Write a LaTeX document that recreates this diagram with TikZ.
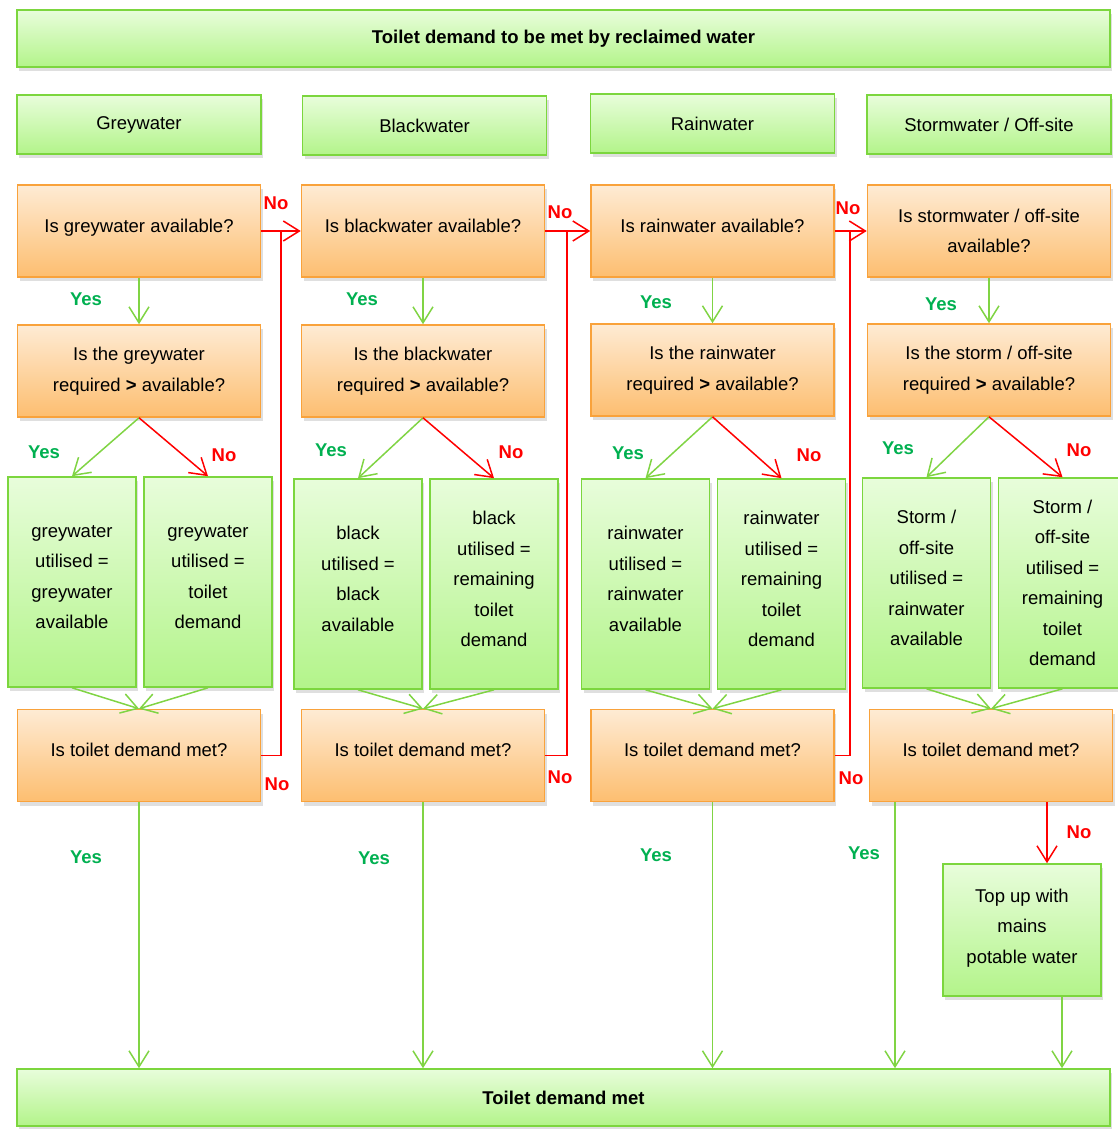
\documentclass[tikz,border=0pt]{standalone}
\usepackage{fontspec}
\setmainfont{Liberation Sans}
\usetikzlibrary{arrows.meta,shadows}
\definecolor{greenedge}{HTML}{7CD63E}
\definecolor{greentop}{HTML}{E8FDDB}
\definecolor{greenbot}{HTML}{B3F48A}
\definecolor{orangeedge}{HTML}{F9A23B}
\definecolor{orangetop}{HTML}{FEEBD4}
\definecolor{orangebot}{HTML}{FDBE70}
\definecolor{yesgreen}{HTML}{00B050}
\definecolor{linegreen}{HTML}{80D444}
\tikzset{every node/.style={font=\fontsize{18.5}{30.5}\selectfont, align=center},
    basebox/.style={draw, line width=1.6pt, inner sep=0pt,
        drop shadow={shadow xshift=2pt, shadow yshift=-4pt, opacity=0.25}},
    greenbox/.style={basebox, draw=greenedge, top color=greentop, bottom color=greenbot},
    orangebox/.style={basebox, draw=orangeedge, top color=orangetop, bottom color=orangebot},
    banner/.style={greenbox, minimum width=1093pt, minimum height=57pt, font=\fontsize{18.5}{30.5}\selectfont\bfseries},
    header/.style={greenbox, minimum width=244pt, minimum height=59pt},
    question/.style={orangebox, minimum width=243pt, minimum height=92pt},
    oneline/.style={question, text depth=11pt},
    result/.style={greenbox, minimum width=128pt, minimum height=210pt, text depth=10pt},
    yesline/.style={draw=linegreen, line width=1.5pt, -{Straight Barb[length=16pt,width=20pt]}},
    noline/.style={draw=red, line width=1.5pt},
    noarrow/.style={noline, -{Straight Barb[length=16pt,width=20pt]}},
    yeslbl/.style={text=yesgreen, font=\fontsize{18.5}{22}\selectfont\bfseries},
    nolbl/.style={text=red, font=\fontsize{18.5}{22}\selectfont\bfseries},
    }
\begin{document}
\begin{tikzpicture}[x=1pt,y=-1pt]
\useasboundingbox (0,0) rectangle (1118,1129);
% banners
\node[banner] (title) at (563.5,38.5) {Toilet demand to be met by reclaimed water};
\node[banner] (done) at (563.5,1097.5) {Toilet demand met};
% sources
\node[header] (grey) at (139,124.5) {Greywater};
\node[header] (black) at (424.5,125.5) {Blackwater};
\node[header] (rain) at (712.5,123.5) {Rainwater};
\node[header] (storm) at (989,124.5) {Stormwater / Off-site};
% is it available
\node[oneline] (avail1) at (139,231) {Is greywater available?};
\node[oneline] (avail2) at (423,231) {Is blackwater available?};
\node[oneline] (avail3) at (712.5,231) {Is rainwater available?};
\node[question] (avail4) at (989,231) {Is stormwater / off-site\\available?};
% required > available
\node[question] (req1) at (139,371) {Is the greywater\\required \textbf{>} available?};
\node[question] (req2) at (423,371) {Is the blackwater\\required \textbf{>} available?};
\node[question] (req3) at (712.5,370) {Is the rainwater\\required \textbf{>} available?};
\node[question] (req4) at (989,370) {Is the storm / off-site\\required \textbf{>} available?};
% utilised
\node[result] (use1a) at (72,582) {greywater\\utilised =\\greywater\\available};
\node[result] (use1b) at (208,582) {greywater\\utilised =\\toilet\\demand};
\node[result] (use2a) at (358,584) {black\\utilised =\\black\\available};
\node[result] (use2b) at (494,584) {black\\utilised =\\remaining\\toilet\\demand};
\node[result] (use3a) at (645.5,584) {rainwater\\utilised =\\rainwater\\available};
\node[result] (use3b) at (781.5,584) {rainwater\\utilised =\\remaining\\toilet\\demand};
\node[result] (use4a) at (926.5,583) {Storm /\\off-site\\utilised =\\rainwater\\available};
\node[result, text depth=0pt] (use4b) at (1062.5,583) {Storm /\\off-site\\utilised =\\remaining\\toilet\\demand};
% demand met
\node[oneline] (met1) at (139,755.5) {Is toilet demand met?};
\node[oneline] (met2) at (423,755.5) {Is toilet demand met?};
\node[oneline] (met3) at (712.5,755.5) {Is toilet demand met?};
\node[oneline] (met4) at (991,755.5) {Is toilet demand met?};
\node[greenbox, minimum width=158pt, minimum height=132pt, text depth=8pt] (mains) at (1022,930) {Top up with\\mains\\potable water};
% yes paths
\draw[yesline] (avail1.south) -- (req1.north);
\draw[yesline] (avail2.south) -- (req2.north);
\draw[yesline] (avail3.south) -- (req3.north);
\draw[yesline] (avail4.south) -- (req4.north);
\draw[yesline] (req1.south) -- (use1a.north);
\draw[yesline] (req2.south) -- (use2a.north);
\draw[yesline] (req3.south) -- (use3a.north);
\draw[yesline] (req4.south) -- (use4a.north);
\draw[noarrow] (req1.south) -- (use1b.north);
\draw[noarrow] (req2.south) -- (use2b.north);
\draw[noarrow] (req3.south) -- (use3b.north);
\draw[noarrow] (req4.south) -- (use4b.north);
\draw[yesline] (use1a.south) -- (met1.north);
\draw[yesline] (use1b.south) -- (met1.north);
\draw[yesline] (use2a.south) -- (met2.north);
\draw[yesline] (use2b.south) -- (met2.north);
\draw[yesline] (use3a.south) -- (met3.north);
\draw[yesline] (use3b.south) -- (met3.north);
\draw[yesline] (use4a.south) -- (met4.north);
\draw[yesline] (use4b.south) -- (met4.north);
\draw[yesline] (met1.south) -- (met1.south |- done.north);
\draw[yesline] (met2.south) -- (met2.south |- done.north);
\draw[yesline] (met3.south) -- (met3.south |- done.north);
\draw[yesline] ([xshift=-96pt]met4.south) -- ([xshift=-96pt]met4.south |- done.north);
\draw[noarrow] ([xshift=56pt]met4.south) -- ([xshift=56pt]met4.south |- mains.north);
\draw[yesline] ([xshift=40pt]mains.south) -- ([xshift=40pt]mains.south |- done.north);
% no paths to next source
\coordinate (join1) at (281,231);
\coordinate (join2) at (567,231);
\coordinate (join3) at (850,231);
\draw[noarrow] (avail1.east) -- (avail2.west);
\draw[noarrow] (avail2.east) -- (avail3.west);
\draw[noarrow] (avail3.east) -- (avail4.west);
\draw[noline] (met1.east) -| (join1);
\draw[noline] (met2.east) -| (join2);
\draw[noline] (met3.east) -| (join3);
% labels
\node[nolbl] (noA1) at (276,203) {No};
\node[nolbl] (noA2) at (560,212) {No};
\node[nolbl] (noA3) at (848,208) {No};
\node[yeslbl] (yesA1) at (86,299) {Yes};
\node[yeslbl] (yesA2) at (362,299) {Yes};
\node[yeslbl] (yesA3) at (656,302) {Yes};
\node[yeslbl] (yesA4) at (941,304) {Yes};
\node[yeslbl] (yesR1) at (44,452) {Yes};
\node[yeslbl] (yesR2) at (331,450) {Yes};
\node[yeslbl] (yesR3) at (628,453) {Yes};
\node[yeslbl] (yesR4) at (898,448) {Yes};
\node[nolbl] (noR1) at (224,455) {No};
\node[nolbl] (noR2) at (511,452) {No};
\node[nolbl] (noR3) at (809,455) {No};
\node[nolbl] (noR4) at (1079,450) {No};
\node[nolbl] (noM1) at (277,784) {No};
\node[nolbl] (noM2) at (560,777) {No};
\node[nolbl] (noM3) at (851,778) {No};
\node[nolbl] (noM4) at (1079,832) {No};
\node[yeslbl] (yesM1) at (86,857) {Yes};
\node[yeslbl] (yesM2) at (374,858) {Yes};
\node[yeslbl] (yesM3) at (656,855) {Yes};
\node[yeslbl] (yesM4) at (864,853) {Yes};
\end{tikzpicture}
\end{document}
